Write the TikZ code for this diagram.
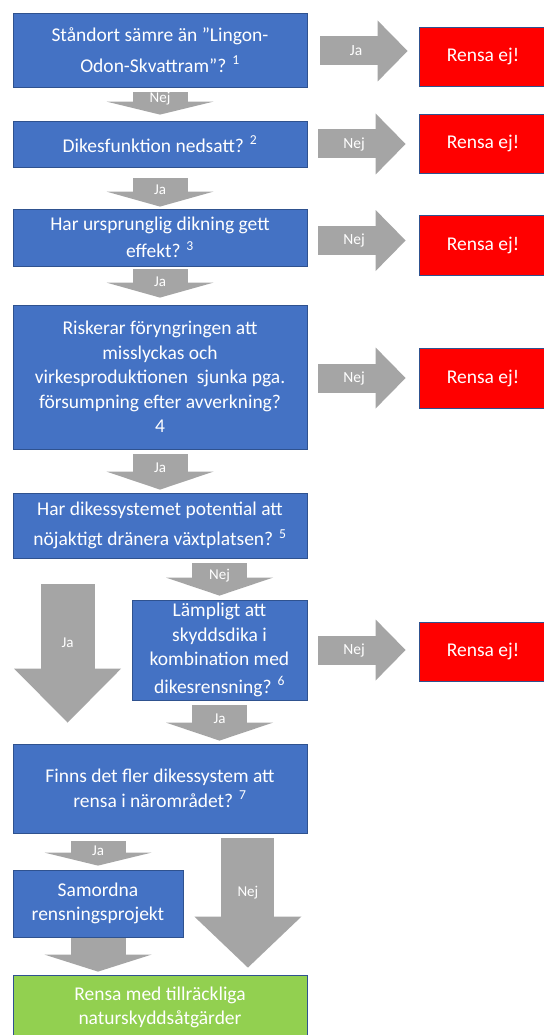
\documentclass[tikz,border=0pt]{standalone}
\usepackage{fontspec}
\setmainfont{Carlito}
\usepackage{tikz}
\usetikzlibrary{positioning, calc, arrows.meta}

\definecolor{rutbla}{HTML}{4472C4}
\definecolor{kantbla}{HTML}{2F528F}
\definecolor{stoppred}{HTML}{FF0000}
\definecolor{klargron}{HTML}{92D050}
\definecolor{pilgra}{HTML}{A5A5A5}

\tikzset{
  fraga/.style={rectangle, draw=kantbla, line width=0.8pt, fill=rutbla, text=white,
    align=center, inner sep=0pt, font=\fontsize{19.5}{24.5}\selectfont},
  stopp/.style={fraga, fill=stoppred, minimum width=128pt, minimum height=59pt,
    font=\fontsize{19.5}{24}\selectfont},
  klar/.style={fraga, fill=klargron},
  pil/.style={draw=pilgra, line width=55pt, -{Triangle[length=#1, width=107pt, line width=0pt]}},
  pil/.default=16pt,
  pilhoger/.style={draw=pilgra, line width=29pt, -{Triangle[length=30pt, width=61pt, line width=0pt]}},
  pilord/.style={text=white, inner sep=0pt, font=\fontsize{15}{16}\selectfont},
  pilord2/.style={pilord, font=\fontsize{15.5}{16}\selectfont}
}

\begin{document}
\begin{tikzpicture}[x=1pt, y=-1pt]
  \useasboundingbox (0,0) rectangle (543,1035);
  \fill[white] (0,0) rectangle (543,1035);

  % fragor
  \node[fraga, minimum width=294pt, minimum height=74pt] (q1) at (160,50)
    {Ståndort sämre än ”Lingon-\\[6pt]Odon-Skvattram”? \textsuperscript{1}};
  \node[fraga, minimum width=294pt, minimum height=46pt] (q2) at (160,144)
    {Dikesfunktion nedsatt? \textsuperscript{2}};
  \node[fraga, minimum width=294pt, minimum height=57pt] (q3) at (160,237.5)
    {Har ursprunglig dikning gett\\[3pt]effekt? \textsuperscript{3}};
  \node[fraga, minimum width=294pt, minimum height=144pt] (q4) at (160,377)
    {Riskerar föryngringen att\\misslyckas och\\virkesproduktionen~ sjunka pga.\\försumpning efter avverkning?\\4};
  \node[fraga, minimum width=294pt, minimum height=65pt] (q5) at (160,525.5)
    {Har dikessystemet potential att\\[6pt]nöjaktigt dränera växtplatsen? \textsuperscript{5}};
  \node[fraga, minimum width=175pt, minimum height=100pt] (q6) at (219.5,650)
    {Lämpligt att\\skyddsdika i\\kombination med\\[3pt]dikesrensning? \textsuperscript{6}};
  \node[fraga, minimum width=294pt, minimum height=89pt] (q7) at (160,788.5)
    {Finns det fler dikessystem att\\rensa i närområdet? \textsuperscript{7}};
  \node[fraga, minimum width=170pt, minimum height=67pt] (q8) at (98,903.5)
    {Samordna\\rensningsprojekt};
  \node[klar, minimum width=294pt, minimum height=65pt] (slut) at (160,1007.5)
    {Rensa med tillräckliga\\naturskyddsåtgärder};

  % rensa ej
  \node[stopp] (r1) at (483,56.5) {Rensa ej!};
  \node[stopp] (r2) at (483,143.5) {Rensa ej!};
  \node[stopp, minimum height=60pt] (r3) at (483,245) {Rensa ej!};
  \node[stopp, minimum height=60pt] (r4) at (483,378) {Rensa ej!};
  \node[stopp] (r6) at (483,651.5) {Rensa ej!};

  % pilar nedat
  \draw[pil=13pt] ($(q1.south)+(0,5)$) -- node[pilord, pos=0.26] (n1) {Nej} ($(q2.north)+(0,-6)$);
  \draw[pil=15pt] ($(q2.south)+(0,11)$) -- node[pilord, pos=0.41] (n2) {Ja} ($(q3.north)+(0,-2)$);
  \draw[pil=15pt] ($(q3.south)+(0,3)$) -- node[pilord, pos=0.45] (n3) {Ja} ($(q4.north)+(0,-7)$);
  \draw[pil=18pt] ($(q4.south)+(0,5)$) -- node[pilord, pos=0.39] (n4) {Ja} ($(q5.north)+(0,-3)$);
  \draw[pil=18pt] ($(q5.south -| q6.north)+(0,5)$) -- node[pilord, pos=0.39] (n5) {Nej} ($(q6.north)+(0,-4)$);
  \draw[pil=18pt] ($(q6.south)+(0,5)$) -- node[pilord, pos=0.39] (n6) {Ja} ($(q7.north -| q6.south)+(0,-3)$);
  \draw[pil=13pt] ($(q7.south -| q8.north)+(0,8)$) -- node[pilord, pos=0.4] (n7) {Ja} ($(q8.north)+(0,-4)$);
  \draw[pil=17pt] ($(q8.south)+(0,1)$) -- ($(slut.north -| q8.south)+(0,-3)$);

  % stora pilar
  \draw[pil=54pt, line width=54pt] ($(q5.south west)+(55,26)$) -- node[pilord, pos=0.42] (n8) {Ja} ($(q7.north west)+(55,-21)$);
  \draw[pil=51pt, line width=53pt] ($(q7.south east)+(-59.5,5)$) -- node[pilord, pos=0.42] (n9) {Nej} ($(slut.north east)+(-59.5,-7)$);

  % pilar till hoger
  \draw[pilhoger] ($(q1.east)+(13,1)$) -- node[pilord2, pos=0.41] (h1) {Ja} ($(q1.east -| r1.west)+(-11,1)$);
  \draw[pilhoger] ($(q2.east)+(11,0)$) -- node[pilord2, pos=0.41] (h2) {Nej} ($(q2.east -| r2.west)+(-13,0)$);
  \draw[pilhoger] ($(q3.east)+(11,3)$) -- node[pilord2, pos=0.41] (h3) {Nej} ($(q3.east -| r3.west)+(-13,3)$);
  \draw[pilhoger] ($(q4.east)+(11,1)$) -- node[pilord2, pos=0.41] (h4) {Nej} ($(q4.east -| r4.west)+(-13,1)$);
  \draw[pilhoger] ($(q6.east)+(11,0)$) -- node[pilord2, pos=0.41] (h6) {Nej} ($(q6.east -| r6.west)+(-13,0)$);
\end{tikzpicture}
\end{document}
